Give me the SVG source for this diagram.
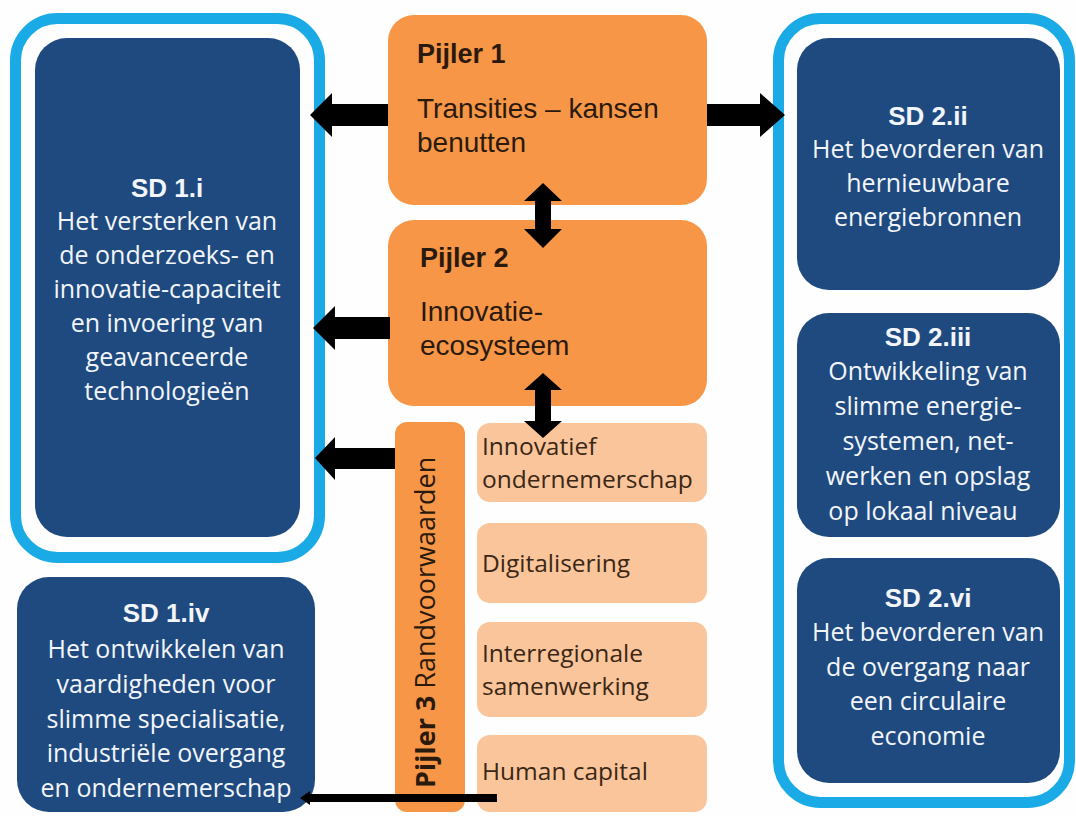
<svg xmlns="http://www.w3.org/2000/svg" width="1076" height="816" viewBox="0 0 1076 816">
<style>
.frame{fill:none;stroke:#1aabe6;stroke-width:11}
.sd{fill:#1f4a7f}
.p{fill:#f79646}
.lp{fill:#fac59a}
.t{font-family:"Liberation Sans",Arial,sans-serif;font-weight:bold;font-size:26px;fill:#f2f5fa;text-anchor:middle}
.b{font-family:"Open Sans","Noto Sans",sans-serif;font-size:25px;fill:#f2f5fa;text-anchor:middle}
.ph{font-family:"Liberation Sans",Arial,sans-serif;font-weight:bold;font-size:27px;fill:#2a1a0e}
.pt{font-family:"Liberation Sans",Arial,sans-serif;font-size:28px;fill:#2a1a0e}
.lt{font-family:"Open Sans","Noto Sans",sans-serif;font-size:24.5px;fill:#3a2716}
.arr{fill:#000}
</style>
<rect width="1076" height="816" fill="#fefefe"/>
<g id="frame-left"><rect class="frame" x="15.5" y="18.5" width="304" height="539" rx="42"/></g>
<g id="frame-right"><rect class="frame" x="778.5" y="18.5" width="291" height="784" rx="42"/></g>
<g id="sd1i">
<rect class="sd" x="35" y="38" width="265" height="499" rx="32"/>
<text class="t" x="167" y="197">SD 1.i</text>
<text class="b" x="167" y="230">Het versterken van</text>
<text class="b" x="167" y="264">de onderzoeks- en</text>
<text class="b" x="167" y="298">innovatie-capaciteit</text>
<text class="b" x="167" y="332">en invoering van</text>
<text class="b" x="167" y="366">geavanceerde</text>
<text class="b" x="167" y="400">technologieën</text>
</g>
<g id="sd1iv">
<rect class="sd" x="17" y="577" width="298" height="235" rx="32"/>
<text class="t" x="166" y="622">SD 1.iv</text>
<text class="b" x="166" y="658">Het ontwikkelen van</text>
<text class="b" x="166" y="693">vaardigheden voor</text>
<text class="b" x="166" y="728">slimme specialisatie,</text>
<text class="b" x="166" y="762">industriële overgang</text>
<text class="b" x="166" y="797">en ondernemerschap</text>
</g>
<g id="sd2ii">
<rect class="sd" x="797" y="38" width="263" height="252" rx="32"/>
<text class="t" x="928" y="125">SD 2.ii</text>
<text class="b" x="928" y="158">Het bevorderen van</text>
<text class="b" x="928" y="192">hernieuwbare</text>
<text class="b" x="928" y="226">energiebronnen</text>
</g>
<g id="sd2iii">
<rect class="sd" x="797" y="313" width="263" height="224" rx="32"/>
<text class="t" x="928" y="346">SD 2.iii</text>
<text class="b" x="928" y="380">Ontwikkeling van</text>
<text class="b" x="928" y="415">slimme energie-</text>
<text class="b" x="928" y="450">systemen, net-</text>
<text class="b" x="928" y="485">werken en opslag</text>
<text class="b" x="923" y="520">op lokaal niveau</text>
</g>
<g id="sd2vi">
<rect class="sd" x="797" y="558" width="263" height="225" rx="32"/>
<text class="t" x="928" y="607">SD 2.vi</text>
<text class="b" x="928" y="641">Het bevorderen van</text>
<text class="b" x="928" y="676">de overgang naar</text>
<text class="b" x="928" y="710">een circulaire</text>
<text class="b" x="928" y="745">economie</text>
</g>
<g id="pijler1">
<rect class="p" x="388" y="15" width="319" height="190" rx="26"/>
<text class="ph" x="417" y="63">Pijler 1</text>
<text class="pt" x="417" y="118">Transities – kansen</text>
<text class="pt" x="417" y="152">benutten</text>
</g>
<g id="pijler2">
<rect class="p" x="388" y="220" width="319" height="186" rx="26"/>
<text class="ph" x="420" y="267">Pijler 2</text>
<text class="pt" x="420" y="321">Innovatie-</text>
<text class="pt" x="420" y="355">ecosysteem</text>
</g>
<g id="pijler3">
<rect class="p" x="395" y="422" width="70" height="390" rx="12"/>
<text transform="translate(435,788) rotate(-90)" font-family="'Open Sans','Noto Sans',sans-serif" font-size="27" fill="#2a1a0e"><tspan font-weight="bold">Pijler 3</tspan> Randvoorwaarden</text>
</g>
<g id="innovatief">
<rect class="lp" x="477" y="423" width="230" height="79" rx="13"/>
<text class="lt" x="482" y="455">Innovatief</text>
<text class="lt" x="482" y="488">ondernemerschap</text>
</g>
<g id="digitalisering">
<rect class="lp" x="477" y="523" width="230" height="80" rx="13"/>
<text class="lt" x="482" y="572">Digitalisering</text>
</g>
<g id="interregionale">
<rect class="lp" x="477" y="622" width="230" height="95" rx="13"/>
<text class="lt" x="482" y="662">Interregionale</text>
<text class="lt" x="482" y="695">samenwerking</text>
</g>
<g id="humancapital">
<rect class="lp" x="477" y="735" width="230" height="77" rx="13"/>
<text class="lt" x="482" y="780">Human capital</text>
</g>
<g id="connectors">
<polygon class="arr" points="388,104 332,104 332,93 310,115 332,137 332,126 388,126"/>
<polygon class="arr" points="707,104 760,104 760,93 785,115 760,137 760,126 707,126"/>
<polygon class="arr" points="390,317 335,317 335,306 313,328 335,350 335,339 390,339"/>
<polygon class="arr" points="395,448 335,448 335,437 315,458 335,480 335,469 395,469"/>
<polygon class="arr" points="543,183 562,201 551,201 551,229 562,229 543,248 524,229 535,229 535,201 524,201"/>
<polygon class="arr" points="543,373 562,390 551,390 551,421 562,421 543,438 524,421 535,421 535,390 524,390"/>
<polygon class="arr" points="497,794 310,794 310,791 300,798 310,805 310,802 497,802"/>
</g>
</svg>
